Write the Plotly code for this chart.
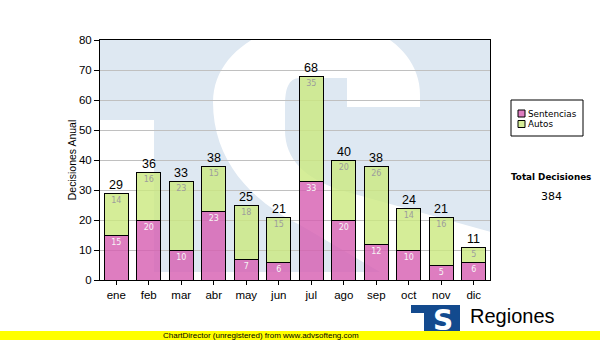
import plotly.graph_objects as go

# ---------------- data ----------------
months = ["ene", "feb", "mar", "abr", "may", "jun", "jul", "ago", "sep", "oct", "nov", "dic"]
sentencias = [15, 20, 10, 23, 7, 6, 33, 20, 12, 10, 5, 6]
autos = [14, 16, 23, 15, 18, 15, 35, 20, 26, 14, 16, 5]
series_names = ["Sentencias", "Autos"]
y_title = "Decisiones Anual"
totals = [s + a for s, a in zip(sentencias, autos)]
grand_total = sum(totals)

# ---------------- style ----------------
PINK = "rgba(214,92,176,0.80)"
GREEN = "rgba(202,232,126,0.80)"
WM = "#dee8f2"
W, H = 600, 340
ML, MR, MT, MB = 100, 110, 40, 60
PW, PH = W - ML - MR, H - MT - MB
AX = "Liberation Sans, Arial, sans-serif"
VD = "DejaVu Sans, Verdana, sans-serif"


# pixel helpers for decorations (watermark / legend / footer)
def dx(px):
    return (px - ML) / (PW / 12.0) - 0.5


def dy(py):
    return (MT + PH - py) / (PH / 80.0)


def px_(px):
    return (px - ML) / PW


def py_(py):
    return (MT + PH - py) / PH


def bez(p0, p1, p2, p3, n=16):
    pts = []
    for i in range(1, n + 1):
        t = i / n
        a, b, c, d = (1 - t) ** 3, 3 * t * (1 - t) ** 2, 3 * t * t * (1 - t), t ** 3
        pts.append((a * p0[0] + b * p1[0] + c * p2[0] + d * p3[0],
                    a * p0[1] + b * p1[1] + c * p2[1] + d * p3[1]))
    return pts


def poly_path(pts):
    s = "M " + " L ".join(f"{dx(x):.4f},{dy(y):.4f}" for x, y in pts) + " Z"
    return s


# white "S" of the background logo (pixel design coordinates)
S = [(347, 107), (420, 107), (420, 95)]
S += bez((420, 95), (420, 65), (400, 42), (372, 30))
S += bez((372, 30), (340, 16), (298, 18), (268, 31))
S += bez((268, 31), (235, 46), (213, 70), (213, 102))
S += bez((213, 102), (213, 160), (250, 200), (300, 225))
S += [(385, 275), (520, 275), (520, 240), (340, 190)]
S += bez((340, 190), (305, 178), (285, 160), (285, 130))
S += [(285, 105)]
S += bez((285, 105), (285, 90), (288, 78), (300, 78))
S += [(347, 78)]

fig = go.Figure()
fig.add_trace(go.Bar(
    x=months, y=sentencias, name=series_names[0],
    marker=dict(color=PINK, line=dict(color="black", width=1)),
    text=sentencias, textposition="inside", insidetextanchor="end",
    textangle=0, constraintext="none",
    textfont=dict(family=VD, size=8, color="#f6f6f6"),
    hoverinfo="skip", showlegend=False,
))
fig.add_trace(go.Bar(
    x=months, y=autos, name=series_names[1],
    marker=dict(color=GREEN, line=dict(color="black", width=1)),
    text=autos, textposition="inside", insidetextanchor="end",
    textangle=0, constraintext="none",
    textfont=dict(family=VD, size=8, color="#9c9c9c"),
    hoverinfo="skip", showlegend=False,
))

annotations = []
for m, t in zip(months, totals):
    annotations.append(dict(x=m, y=t, text=str(t), xref="x", yref="y",
                            showarrow=False, xanchor="center", yanchor="bottom", yshift=-1,
                            font=dict(family=AX, size=12.5, color="black")))

shapes = [
    dict(type="rect", xref="x", yref="y", x0=dx(90), x1=dx(500), y0=dy(272), y1=dy(0),
         fillcolor=WM, line=dict(width=0), layer="below"),
    dict(type="rect", xref="x", yref="y", x0=dx(90), x1=dx(154), y0=dy(300), y1=dy(120),
         fillcolor="white", line=dict(width=0), layer="below"),
    dict(type="path", xref="x", yref="y", path=poly_path(S),
         fillcolor="white", line=dict(width=0), layer="below"),
]

# ---------- legend box (manual) ----------
shapes.append(dict(type="rect", xref="paper", yref="paper",
                   x0=px_(511), x1=px_(583), y0=py_(136), y1=py_(100),
                   fillcolor="white", line=dict(color="black", width=1)))
for i, (nm, col) in enumerate(zip(series_names, [PINK, GREEN])):
    cy = 113.5 + i * 10.5
    shapes.append(dict(type="rect", xref="paper", yref="paper",
                       x0=px_(518), x1=px_(525), y0=py_(cy + 3.5), y1=py_(cy - 3.5),
                       fillcolor=col, line=dict(color="black", width=1)))
    annotations.append(dict(x=px_(526), y=py_(cy), xref="paper", yref="paper",
                            text=nm, showarrow=False, xanchor="left", yanchor="middle",
                            font=dict(family=VD, size=8.8, color="black")))

annotations.append(dict(x=px_(551), y=py_(177), xref="paper", yref="paper",
                        text="<b>Total Decisiones</b>", showarrow=False,
                        xanchor="center", yanchor="middle",
                        font=dict(family=VD, size=8.8, color="black")))
annotations.append(dict(x=px_(551), y=py_(196), xref="paper", yref="paper",
                        text=str(grand_total), showarrow=False,
                        xanchor="center", yanchor="middle",
                        font=dict(family=VD, size=11, color="black")))

# ---------- footer: logo + ChartDirector bar ----------
shapes.append(dict(type="rect", xref="paper", yref="paper",
                   x0=px_(411), x1=px_(460), y0=py_(331), y1=py_(305),
                   fillcolor="#134a8e", line=dict(width=0)))
shapes.append(dict(type="rect", xref="paper", yref="paper",
                   x0=px_(411), x1=px_(424), y0=py_(331), y1=py_(313),
                   fillcolor="white", line=dict(width=0)))
annotations.append(dict(x=px_(443), y=py_(320), xref="paper", yref="paper",
                        text="<b>S</b>", showarrow=False,
                        xanchor="center", yanchor="middle",
                        font=dict(family="DejaVu Sans", size=28, color="white")))
annotations.append(dict(x=px_(468), y=py_(316), xref="paper", yref="paper",
                        text="Regiones", showarrow=False, xanchor="left", yanchor="middle",
                        font=dict(family=AX, size=20, color="black")))
shapes.append(dict(type="rect", xref="paper", yref="paper",
                   x0=px_(-5), x1=px_(605), y0=py_(345), y1=py_(331),
                   fillcolor="#ffff00", line=dict(width=0)))
annotations.append(dict(x=px_(261), y=py_(335.5), xref="paper", yref="paper",
                        text="ChartDirector (unregistered) from www.advsofteng.com",
                        showarrow=False, xanchor="center", yanchor="middle",
                        font=dict(family=AX, size=8, color="black")))

fig.update_layout(
    width=W, height=H,
    margin=dict(l=ML, r=MR, t=MT, b=MB, pad=0),
    barmode="stack", bargap=0.26,
    paper_bgcolor="white", plot_bgcolor="white",
    shapes=shapes, annotations=annotations,
    showlegend=False,
    xaxis=dict(type="category", range=[-0.5, 11.5], showgrid=False,
               ticks="outside", ticklen=4, tickcolor="black",
               showline=True, linecolor="black", linewidth=1, mirror=True,
               tickfont=dict(family=AX, size=11.5, color="black"),
               fixedrange=True),
    yaxis=dict(range=[0, 80], dtick=10, showgrid=True, gridcolor="#c0c0c0",
               gridwidth=1, zeroline=False,
               ticks="outside", ticklen=5, tickcolor="black",
               showline=True, linecolor="black", linewidth=1, mirror=True,
               tickfont=dict(family=AX, size=11.5, color="black"),
               title=dict(text=y_title, standoff=0,
                          font=dict(family=AX, size=10.5, color="black")),
               fixedrange=True),
)

fig.write_html("out.html")
